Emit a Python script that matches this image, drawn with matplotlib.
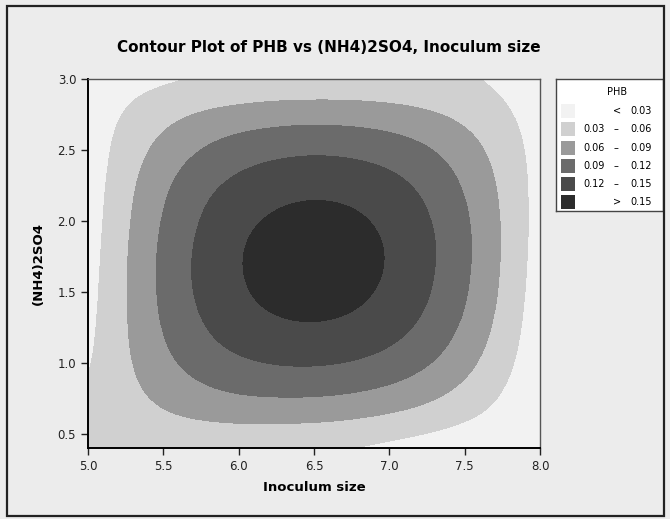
import numpy as np
import matplotlib
matplotlib.use('Agg')
import matplotlib.pyplot as plt
from matplotlib.colors import ListedColormap, BoundaryNorm
from matplotlib.patches import Rectangle

# grid of the surface: Inoculum size (columns) x (NH4)2SO4 (rows)
inoculum = [5.0, 5.25, 5.5, 5.75, 6.0, 6.25, 6.5, 6.75, 7.0, 7.25, 7.5, 7.75, 8.0]
nh4so4 = [0.4, 0.6, 0.8, 1.0, 1.2, 1.4, 1.6, 1.8, 2.0, 2.2, 2.4, 2.6, 2.8, 3.0]
phb = [
    [0.037, 0.036, 0.035, 0.033, 0.032, 0.031, 0.029, 0.025, 0.020, 0.014, 0.010, 0.007, 0.005],
    [0.035, 0.044, 0.055, 0.062, 0.066, 0.066, 0.065, 0.061, 0.054, 0.045, 0.032, 0.020, 0.006],
    [0.029, 0.051, 0.071, 0.086, 0.095, 0.098, 0.098, 0.094, 0.086, 0.073, 0.054, 0.030, 0.007],
    [0.023, 0.056, 0.084, 0.104, 0.117, 0.124, 0.125, 0.121, 0.111, 0.095, 0.072, 0.041, 0.008],
    [0.019, 0.059, 0.092, 0.117, 0.134, 0.143, 0.146, 0.141, 0.130, 0.111, 0.084, 0.049, 0.009],
    [0.016, 0.060, 0.097, 0.125, 0.145, 0.156, 0.159, 0.155, 0.142, 0.122, 0.093, 0.055, 0.010],
    [0.014, 0.060, 0.099, 0.129, 0.150, 0.162, 0.166, 0.162, 0.149, 0.127, 0.097, 0.059, 0.011],
    [0.012, 0.059, 0.098, 0.128, 0.150, 0.163, 0.167, 0.163, 0.150, 0.129, 0.099, 0.060, 0.013],
    [0.011, 0.056, 0.094, 0.123, 0.144, 0.156, 0.161, 0.157, 0.145, 0.125, 0.097, 0.060, 0.014],
    [0.010, 0.053, 0.088, 0.115, 0.133, 0.144, 0.148, 0.145, 0.135, 0.117, 0.091, 0.057, 0.015],
    [0.010, 0.047, 0.078, 0.101, 0.116, 0.125, 0.129, 0.126, 0.118, 0.104, 0.081, 0.052, 0.016],
    [0.011, 0.040, 0.064, 0.082, 0.094, 0.100, 0.103, 0.101, 0.095, 0.084, 0.067, 0.044, 0.016],
    [0.012, 0.030, 0.046, 0.057, 0.064, 0.069, 0.070, 0.069, 0.065, 0.058, 0.048, 0.033, 0.016],
    [0.014, 0.019, 0.023, 0.027, 0.029, 0.031, 0.032, 0.033, 0.033, 0.032, 0.031, 0.024, 0.015],
]

levels = [0.03, 0.06, 0.09, 0.12, 0.15]
band_colors = ['#f2f2f2', '#d0d0d0', '#9a9a9a', '#6b6b6b', '#4a4a4a', '#2c2c2c']
band_labels = [('<', '0.03'), ('0.03', '0.06'), ('0.06', '0.09'),
               ('0.09', '0.12'), ('0.12', '0.15'), ('>', '0.15')]

W, H = 670, 519
fig = plt.figure(figsize=(W / 100, H / 100), dpi=100, facecolor='#ececec')
fig.patches.append(Rectangle((7 / W, 3 / H), 657 / W, 510 / H, transform=fig.transFigure,
                             fill=False, edgecolor='#222222', lw=1.6))

ax = fig.add_axes([88 / W, 1 - 448 / H, 452 / W, 369 / H])
cmap = ListedColormap(band_colors)
norm = BoundaryNorm([-1] + levels + [1], cmap.N)
# half a grid step on each side so the cell centres sit on the grid values
hx = (inoculum[1] - inoculum[0]) / 2
hy = (nh4so4[1] - nh4so4[0]) / 2
ax.imshow(np.array(phb), origin='lower', cmap=cmap, norm=norm, aspect='auto',
          extent=(inoculum[0] - hx, inoculum[-1] + hx, nh4so4[0] - hy, nh4so4[-1] + hy),
          interpolation='bicubic', interpolation_stage='data')
ax.set_xlim(5.0, 8.0)
ax.set_ylim(0.4, 3.0)
ax.set_xticks(np.arange(5.0, 8.01, 0.5))
ax.set_yticks(np.arange(0.5, 3.01, 0.5))
ax.xaxis.set_major_formatter('{x:.1f}')
ax.yaxis.set_major_formatter('{x:.1f}')
ax.tick_params(direction='out', length=5, width=1, labelsize=8.5, colors='#222222')
for s in ['left', 'bottom']:
    ax.spines[s].set_linewidth(1.4)
for s in ['top', 'right']:
    ax.spines[s].set_linewidth(1.0)
    ax.spines[s].set_color('#555555')
ax.set_xlabel('Inoculum size', fontsize=9.5, fontweight='bold', labelpad=6)
ax.set_ylabel('(NH4)2SO4', fontsize=9.5, fontweight='bold', labelpad=9)

fig.text(329 / W, 1 - 47 / H, 'Contour Plot of PHB vs (NH4)2SO4, Inoculum size',
         ha='center', va='center', fontsize=11, fontweight='bold')

# legend box, laid out in pixel units
lg = fig.add_axes([556 / W, 1 - 211 / H, 107 / W, 132 / H])
lg.set_xlim(556, 663)
lg.set_ylim(211, 79)
lg.set_xticks([])
lg.set_yticks([])
lg.set_facecolor('white')
for s in lg.spines.values():
    s.set_color('#444444')
    s.set_linewidth(1.0)
lg.text(617, 92, 'PHB', ha='center', va='center', fontsize=7)
row_y = [111, 129, 148, 166, 184, 202]
for c, (lo, hi), y in zip(band_colors, band_labels, row_y):
    lg.add_patch(Rectangle((561, y - 7), 14, 14, facecolor=c, edgecolor='none'))
    lg.text(652, y, hi, ha='right', va='center', fontsize=7)
    if lo in ('<', '>'):
        lg.text(617, y, lo, ha='center', va='center', fontsize=7)
    else:
        lg.text(605, y, lo, ha='right', va='center', fontsize=7)
        lg.text(616, y, '\u2013', ha='center', va='center', fontsize=7)

fig.savefig('out.png', dpi=100, facecolor=fig.get_facecolor())
